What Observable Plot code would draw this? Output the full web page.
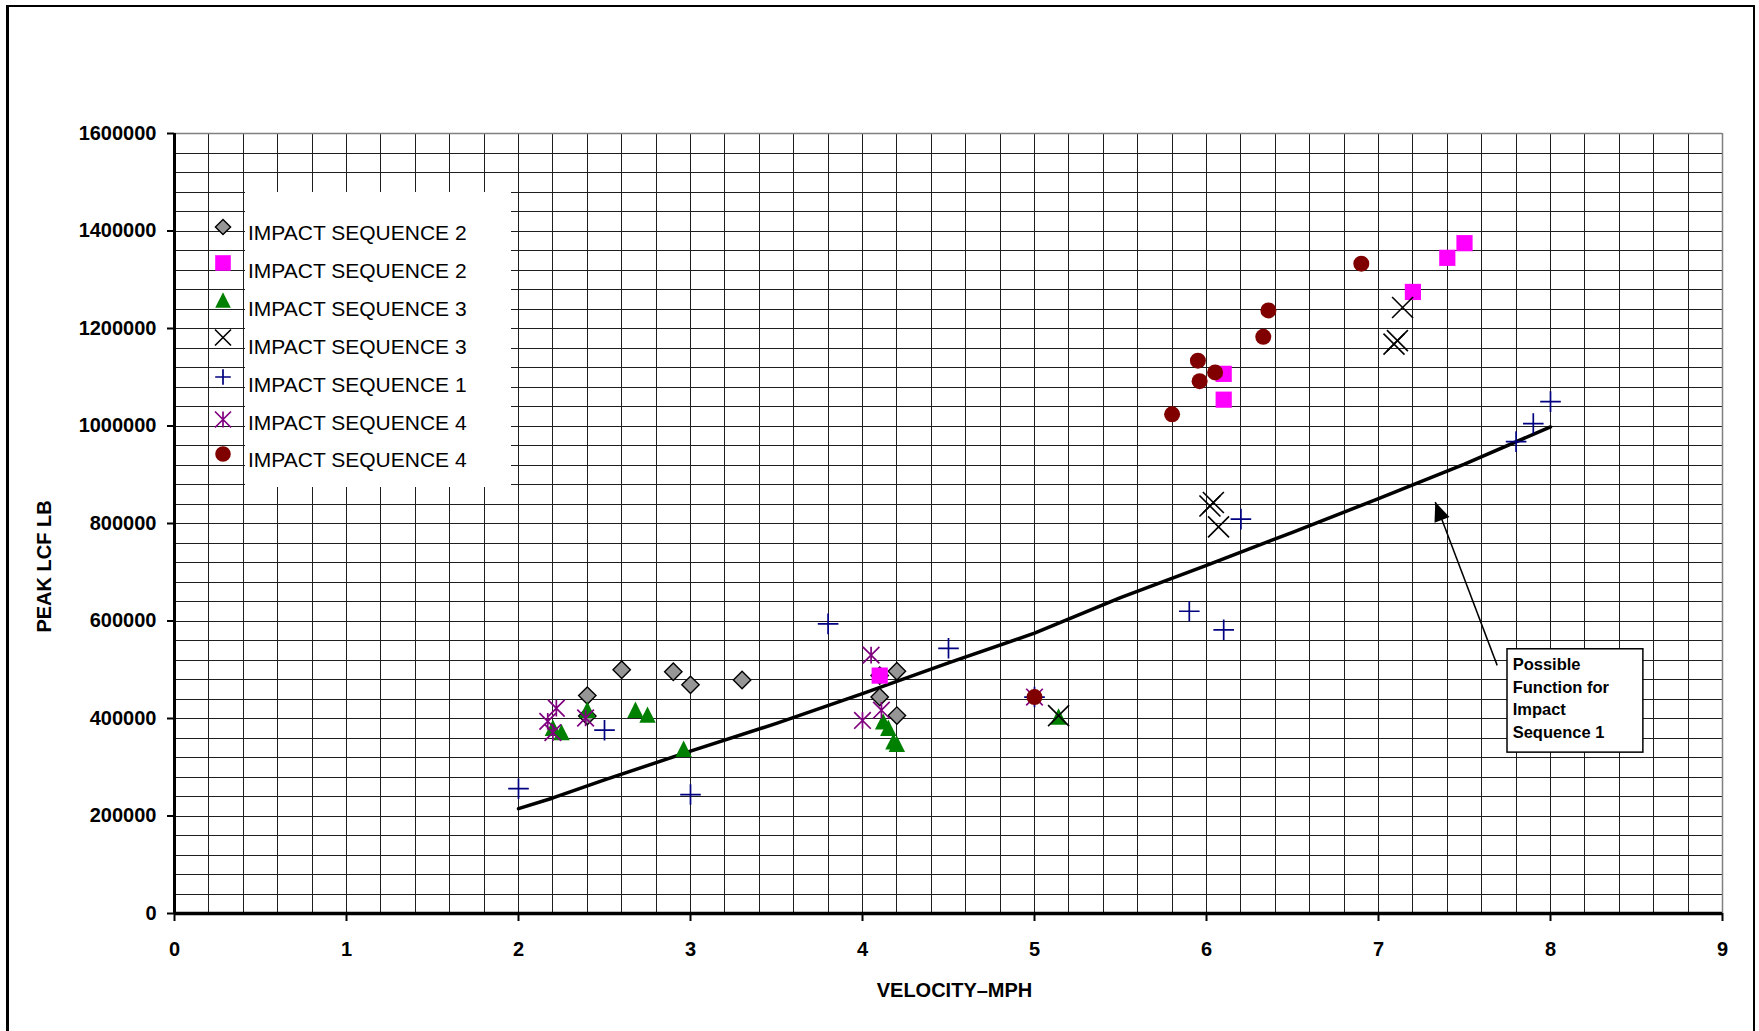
<!DOCTYPE html>
<html>
<head>
<meta charset="utf-8">
<script src="https://cdn.jsdelivr.net/npm/d3@7"></script>
<script src="https://cdn.jsdelivr.net/npm/@observablehq/plot@0.6"></script>
<style>
  html, body { margin: 0; padding: 0; background: #fff; overflow: hidden; }
  #chart { position: relative; width: 1759px; height: 1031px; }
  #chart svg { display: block; }
  #chart .border {
    position: absolute; left: 6px; top: 5px; width: 1749px; height: 1040px;
    border: 2px solid #000; border-left-width: 3px; box-sizing: border-box; pointer-events: none;
  }
</style>
</head>
<body>
<div id="chart"></div>
<script>
// ---- Axis ticks ----
const xTicks = [0, 1, 2, 3, 4, 5, 6, 7, 8, 9];
const yTicks = [0, 200000, 400000, 600000, 800000, 1000000, 1200000, 1400000, 1600000];

// ---- Impact sequence 2 (grey diamonds) ----
const seq2aVelocity = [2.4, 2.4, 2.6, 2.9, 3.0, 3.3, 4.1, 4.1, 4.2, 4.2];
const seq2aForce = [447000, 405000, 500000, 496000, 469000, 479000, 488000, 444000, 497000, 406000];

// ---- Impact sequence 2 (magenta squares) ----
const seq2bVelocity = [4.1, 6.1, 6.1, 7.2, 7.4, 7.5];
const seq2bForce = [488000, 1107000, 1054000, 1275000, 1345000, 1375000];

// ---- Impact sequence 3 (green triangles) ----
const seq3aVelocity = [2.2, 2.25, 2.4, 2.68, 2.75, 2.96, 4.12, 4.15, 4.18, 4.2, 5.14];
const seq3aForce = [381000, 372000, 418000, 418000, 408000, 338000, 394000, 381000, 353000, 348000, 404000];

// ---- Impact sequence 3 (black crosses) ----
const seq3bVelocity = [5.14, 6.02, 6.04, 6.07, 7.09, 7.11, 7.14];
const seq3bForce = [406000, 836000, 843000, 793000, 1168000, 1175000, 1243000];

// ---- Impact sequence 1 (blue plus signs) ----
const seq1Velocity = [2.0, 2.5, 3.0, 3.8, 4.5, 5.0, 5.9, 6.1, 6.2, 7.8, 7.9, 8.0];
const seq1Force = [256000, 376000, 244000, 594000, 544000, 444000, 620000, 582000, 809000, 968000, 1005000, 1050000];

// ---- Impact sequence 4 (purple asterisks) ----
const seq4aVelocity = [2.17, 2.2, 2.22, 2.39, 4.0, 4.05, 4.11, 5.0];
const seq4aForce = [394000, 371000, 421000, 401000, 396000, 530000, 417000, 444000];

// ---- Impact sequence 4 (dark red circles) ----
const seq4bVelocity = [5.0, 5.8, 5.95, 5.96, 6.05, 6.33, 6.36, 6.9];
const seq4bForce = [444000, 1024000, 1134000, 1092000, 1110000, 1183000, 1237000, 1333000];

// ---- Possible function for impact sequence 1 ----
const fitVelocity = [2.0, 2.2, 2.5, 3.0, 3.5, 4.0, 4.5, 5.0, 5.5, 6.0, 6.5, 7.0, 7.5, 8.0];
const fitForce = [215000, 237000, 274000, 333000, 390000, 451000, 514000, 575000, 648000, 714000, 782000, 851000, 922000, 998000];

// ---- Legend and note ----
const legendLabels = ["IMPACT SEQUENCE 2", "IMPACT SEQUENCE 2", "IMPACT SEQUENCE 3", "IMPACT SEQUENCE 3",
                      "IMPACT SEQUENCE 1", "IMPACT SEQUENCE 4", "IMPACT SEQUENCE 4"];
const noteLines = ["Possible", "Function for", "Impact", "Sequence 1"];
const noteBox = [{x1: 7.75, x2: 8.54, y1: 330000, y2: 542000}];
const noteAnchor = [{x: 7.78, y: 531800}];
const noteArrow = [{x1: 7.69, y1: 509000, x2: 7.33, y2: 844000}];

// ---- Layout ----
const W = 1759, H = 1031;
const M = {top: 133, right: 37, bottom: 118, left: 174};
const xDomain = [0, 9], yDomain = [0, 1600000];
const FONT = "'Liberation Sans', Arial, Helvetica, sans-serif";

// Marker shapes; size is the area, so h equals the dot radius r
const sym = (draw) => ({draw(c, size) { draw(c, Math.sqrt(size / Math.PI)); }});
const diamondSymbol = sym((c, h) => { c.moveTo(0, -h); c.lineTo(h, 0); c.lineTo(0, h); c.lineTo(-h, 0); c.closePath(); });
const squareSymbol = sym((c, h) => { c.moveTo(-h, -h); c.lineTo(h, -h); c.lineTo(h, h); c.lineTo(-h, h); c.closePath(); });
const triangleSymbol = sym((c, h) => { c.moveTo(0, -h); c.lineTo(h, h); c.lineTo(-h, h); c.closePath(); });
const timesSymbol = sym((c, h) => { c.moveTo(-h, -h); c.lineTo(h, h); c.moveTo(-h, h); c.lineTo(h, -h); });
const plusSymbol = sym((c, h) => { c.moveTo(-h, 0); c.lineTo(h, 0); c.moveTo(0, -h); c.lineTo(0, h); });
const asteriskSymbol = sym((c, h) => { c.moveTo(-h, -h); c.lineTo(h, h); c.moveTo(-h, h); c.lineTo(h, -h); c.moveTo(0, -h); c.lineTo(0, h); });
const circleSymbol = sym((c, h) => { c.moveTo(h, 0); c.arc(0, 0, h, 0, 2 * Math.PI); c.closePath(); });
const arrowHeadSymbol = {draw(c) { c.moveTo(0, 0); c.lineTo(8, 19); c.lineTo(-8, 19); c.closePath(); }};

const series = [
  {xs: seq2aVelocity, ys: seq2aForce, symbol: diamondSymbol, r: 8.7, fill: "#969696", stroke: "#000", sw: 1.4, lr: 7.6},
  {xs: seq2bVelocity, ys: seq2bForce, symbol: squareSymbol, r: 8.1, fill: "#ff00ff", stroke: "none", sw: 0, lr: 7.8},
  {xs: seq3aVelocity, ys: seq3aForce, symbol: triangleSymbol, r: 8.2, fill: "#008000", stroke: "none", sw: 0, lr: 7.8},
  {xs: seq3bVelocity, ys: seq3bForce, symbol: timesSymbol, r: 10.5, fill: "none", stroke: "#000", sw: 1.6, lr: 8},
  {xs: seq1Velocity, ys: seq1Force, symbol: plusSymbol, r: 10.3, fill: "none", stroke: "#000080", sw: 1.7, lr: 7.8},
  {xs: seq4aVelocity, ys: seq4aForce, symbol: asteriskSymbol, r: 8.3, fill: "none", stroke: "#800080", sw: 1.7, lr: 8},
  {xs: seq4bVelocity, ys: seq4bForce, symbol: circleSymbol, r: 8, fill: "#800000", stroke: "none", sw: 0, lr: 7.8}
];
const rows = (xs, ys) => xs.map((x, i) => ({x, y: ys[i]}));

// Grid every 0.2 mph and every 40000 lb
const xGrid = d3.range(1, 45).map(i => i / 5);
const yGrid = d3.range(1, 40).map(i => i * 40000);

// Pixel scales mirroring the plot frame, used to orient the arrow head
const px = d3.scaleLinear(xDomain, [M.left, W - M.right]);
const py = d3.scaleLinear(yDomain, [H - M.bottom, M.top]);
const a = noteArrow[0];
const arrowAngle = Math.atan2(px(a.x2) - px(a.x1), -(py(a.y2) - py(a.y1))) * 180 / Math.PI;

const plot = Plot.plot({
  width: W, height: H,
  marginTop: M.top, marginRight: M.right, marginBottom: M.bottom, marginLeft: M.left,
  x: {domain: xDomain},
  y: {domain: yDomain},
  style: {fontFamily: FONT, color: "#000", background: "transparent", overflow: "visible"},
  marks: [
    Plot.gridX(xGrid, {stroke: "#1e1e1e", strokeOpacity: 1, strokeWidth: 1, shapeRendering: "crispEdges"}),
    Plot.gridY(yGrid, {stroke: "#1e1e1e", strokeOpacity: 1, strokeWidth: 1, shapeRendering: "crispEdges"}),
    Plot.ruleY([yDomain[1]], {stroke: "#808080", strokeWidth: 1.5}),
    Plot.ruleX([xDomain[1]], {stroke: "#808080", strokeWidth: 1.5}),

    // fitted curve
    Plot.line(rows(fitVelocity, fitForce), {x: "x", y: "y", stroke: "#000", strokeWidth: 3.5, strokeLinejoin: "round"}),

    // note box and arrow
    Plot.rect(noteBox, {x1: "x1", x2: "x2", y1: "y1", y2: "y2", fill: "#fff", stroke: "#000", strokeWidth: 1.5}),
    Plot.text(noteAnchor, {x: "x", y: "y", text: () => noteLines.join("\n"), textAnchor: "start", lineAnchor: "top",
      lineHeight: 1.37, fontSize: 16.5, fontWeight: "bold", fill: "#000"}),
    Plot.link(noteArrow, {x1: "x1", y1: "y1", x2: "x2", y2: "y2", stroke: "#000", strokeWidth: 1.5}),
    Plot.dot(noteArrow, {x: "x2", y: "y2", symbol: arrowHeadSymbol, r: 1, rotate: arrowAngle, fill: "#000", stroke: "none"}),

    // data series
    ...series.map(s => Plot.dot(rows(s.xs, s.ys), {
      x: "x", y: "y", symbol: s.symbol, r: s.r, fill: s.fill, stroke: s.stroke, strokeWidth: s.sw
    })),

    // axis lines and ticks
    Plot.ruleX([0], {stroke: "#000", strokeWidth: 3}),
    Plot.ruleY([0], {stroke: "#000", strokeWidth: 3.5}),
    Plot.axisX(xTicks, {tickSize: 8, tickPadding: 20, strokeWidth: 2, fontSize: 20, fontWeight: "bold", label: null,
      tickFormat: d3.format("d")}),
    Plot.axisY(yTicks, {tickSize: 7, tickPadding: 11, strokeWidth: 2, fontSize: 20, fontWeight: "bold", label: null,
      tickFormat: d3.format("d")}),

    // axis titles
    Plot.text(["VELOCITY\u2013MPH"], {text: d => d, frameAnchor: "bottom", dx: 6, dy: 77, lineAnchor: "middle",
      fontSize: 20, fontWeight: "bold", fill: "#000"}),
    Plot.text(["PEAK LCF LB"], {text: d => d, frameAnchor: "left", dx: -130, dy: 43, rotate: -90, lineAnchor: "middle",
      textAnchor: "middle", fontSize: 20, fontWeight: "bold", fill: "#000"})
  ]
});

// Legend panel inside the plot area
const svg = d3.select(plot);
const legend = svg.append("g")
  .attr("font-family", FONT).attr("font-size", 21).attr("text-anchor", "start");
legend.append("rect").attr("x", 245).attr("y", 192).attr("width", 266).attr("height", 295).attr("fill", "#fff");
const rowText = [232, 270, 308.3, 346.7, 384.3, 422.7, 459.3];
const rowSymbol = [227, 263, 300, 337.5, 377, 419.5, 454];
series.forEach((s, i) => {
  legend.append("path")
    .attr("transform", `translate(223,${rowSymbol[i]})`)
    .attr("d", d3.symbol(s.symbol, Math.PI * s.lr * s.lr)())
    .attr("fill", s.fill).attr("stroke", s.stroke).attr("stroke-width", s.sw);
  legend.append("text")
    .attr("x", 248).attr("y", rowText[i] + 7.5)
    .attr("text-anchor", "start")
    .attr("fill", "#000")
    .text(legendLabels[i]);
});

const chart = document.getElementById("chart");
chart.appendChild(plot);
const border = document.createElement("div");
border.className = "border";
chart.appendChild(border);
</script>
</body>
</html>
